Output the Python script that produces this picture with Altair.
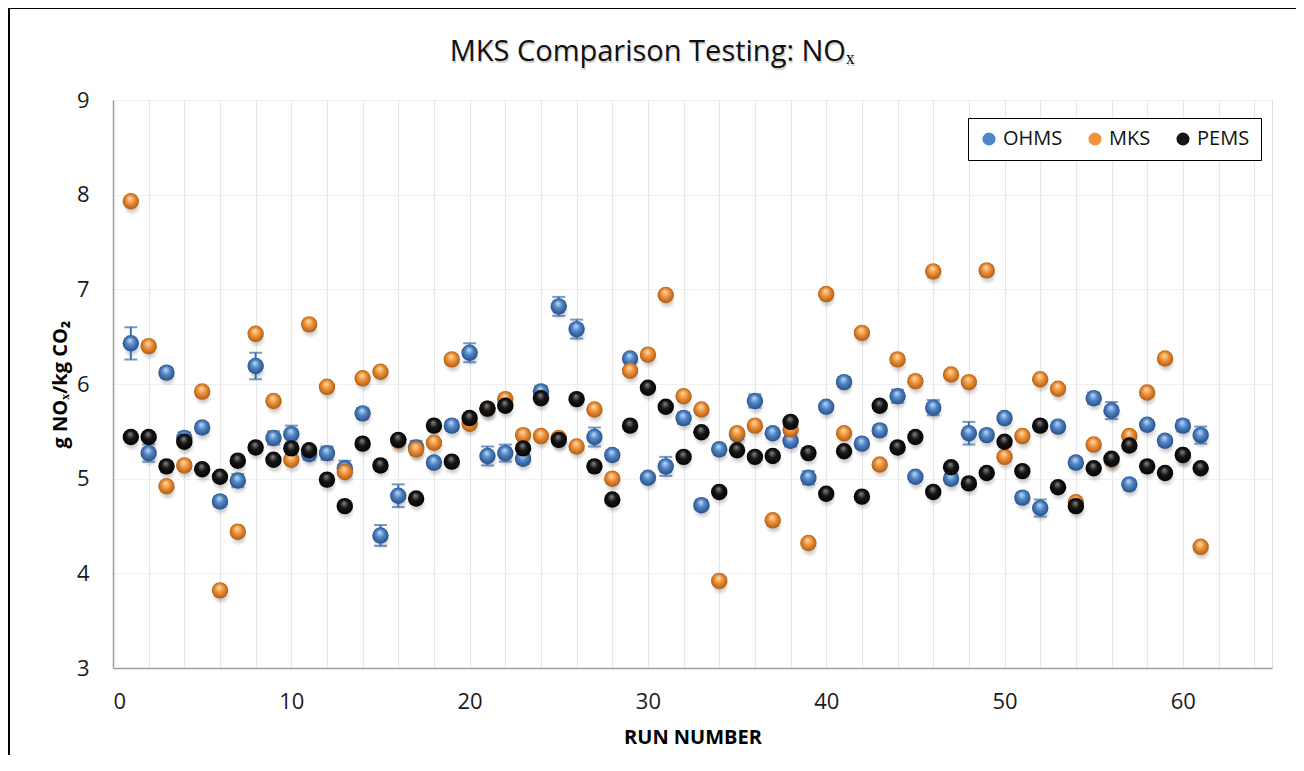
import altair as alt
import pandas as pd

runs = list(range(1, 62))

ohms = [6.43, 5.27, 6.12, 5.43, 5.54, 4.76, 4.98, 6.19, 5.43, 5.47,
        5.26, 5.27, 5.11, 5.69, 4.40, 4.82, 5.33, 5.17, 5.56, 6.33,
        5.24, 5.27, 5.21, 5.92, 6.82, 6.58, 5.44, 5.25, 6.27, 5.01,
        5.13, 5.64, 4.72, 5.31, 5.47, 5.82, 5.48, 5.40, 5.01, 5.76,
        6.02, 5.37, 5.51, 5.87, 5.02, 5.75, 5.00, 5.48, 5.46, 5.64,
        4.80, 4.69, 5.55, 5.17, 5.85, 5.72, 4.94, 5.57, 5.40, 5.56, 5.46]

ohms_err = [0.17, 0.09, 0.05, 0.06, 0.05, 0.05, 0.07, 0.14, 0.07, 0.09,
            0.06, 0.07, 0.08, 0.05, 0.11, 0.12, 0.07, 0.05, 0.05, 0.10,
            0.10, 0.09, 0.05, 0.06, 0.10, 0.10, 0.10, 0.05, 0.04, 0.04,
            0.10, 0.06, 0.05, 0.05, 0.05, 0.07, 0.05, 0.06, 0.07, 0.04,
            0.05, 0.05, 0.05, 0.07, 0.03, 0.08, 0.05, 0.12, 0.04, 0.05,
            0.05, 0.09, 0.05, 0.05, 0.06, 0.09, 0.03, 0.05, 0.05, 0.06, 0.09]

mks = [7.93, 6.40, 4.92, 5.14, 5.92, 3.82, 4.44, 6.53, 5.82, 5.20,
       6.63, 5.97, 5.07, 6.06, 6.13, 5.40, 5.31, 5.38, 6.26, 5.58,
       5.74, 5.84, 5.46, 5.45, 5.43, 5.34, 5.73, 5.00, 6.14, 6.31,
       6.94, 5.87, 5.73, 3.92, 5.48, 5.56, 4.56, 5.52, 4.32, 6.95,
       5.48, 6.54, 5.15, 6.26, 6.03, 7.19, 6.10, 6.02, 7.20, 5.23,
       5.45, 6.05, 5.95, 4.75, 5.36, 5.20, 5.45, 5.91, 6.27, 5.25, 4.28]

pems = [5.44, 5.44, 5.13, 5.39, 5.10, 5.02, 5.19, 5.33, 5.20, 5.32,
        5.30, 4.99, 4.71, 5.37, 5.14, 5.41, 4.79, 5.56, 5.18, 5.64,
        5.74, 5.77, 5.32, 5.85, 5.41, 5.84, 5.13, 4.78, 5.56, 5.96,
        5.76, 5.23, 5.49, 4.86, 5.30, 5.23, 5.24, 5.60, 5.27, 4.84,
        5.29, 4.81, 5.77, 5.33, 5.44, 4.86, 5.12, 4.95, 5.06, 5.39,
        5.08, 5.56, 4.91, 4.71, 5.11, 5.21, 5.35, 5.13, 5.06, 5.25, 5.11]

series_names = ["OHMS", "MKS", "PEMS"]
base_colors = ["#4f86c8", "#f0933a", "#141414"]
chart_title = "MKS Comparison Testing: NOₓ"

df_ohms = pd.DataFrame({"run": runs, "value": ohms, "err": ohms_err, "series": "OHMS"})
df_ohms["lo"] = df_ohms["value"] - df_ohms["err"]
df_ohms["hi"] = df_ohms["value"] + df_ohms["err"]
df_mks = pd.DataFrame({"run": runs, "value": mks, "series": "MKS"})
df_pems = pd.DataFrame({"run": runs, "value": pems, "series": "PEMS"})
df_all = pd.concat([df_ohms[["run", "value", "series"]], df_mks, df_pems], ignore_index=True)

FONT = "Open Sans"

x_enc = alt.X("run:Q",
              scale=alt.Scale(domain=[0, 65], nice=False, zero=False),
              axis=alt.Axis(values=list(range(0, 66, 2)), tickCount=60,
                            labelExpr="datum.value % 10 == 0 ? datum.label : ''",
                            labelOverlap=False,
                            title="RUN NUMBER", ticks=False, grid=True,
                            gridColor="#e6e6e6", gridWidth=1.2,
                            domainColor="#a0a0a0", domainWidth=1.5,
                            labelFontSize=22, labelColor="#1a1a1a", labelFont=FONT,
                            labelPadding=23, titleFontSize=20, titleFontWeight="bold",
                            titleFont=FONT, titleColor="#000000", titlePadding=15))
y_enc = alt.Y("value:Q",
              scale=alt.Scale(domain=[3, 9], nice=False, zero=False),
              axis=alt.Axis(values=[3, 4, 5, 6, 7, 8, 9], format="d",
                            title="g NOₓ/kg CO₂", labelOverlap=False,
                            ticks=False, grid=True, gridColor="#f0f0f0",
                            domainColor="#a0a0a0", domainWidth=1.5,
                            labelFontSize=22, labelColor="#1a1a1a", labelFont=FONT,
                            labelPadding=24, titleFontSize=20, titleFontWeight="bold",
                            titleFont=FONT, titleColor="#000000", titlePadding=6))


def sphere(light, base, dark):
    return {
        "gradient": "radial",
        "x1": 0.45, "y1": 0.3, "r1": 0.0,
        "x2": 0.5, "y2": 0.5, "r2": 0.55,
        "stops": [
            {"offset": 0.0, "color": light},
            {"offset": 0.45, "color": base},
            {"offset": 1.0, "color": dark},
        ],
    }


shadow_fill = {
    "gradient": "radial",
    "x1": 0.5, "y1": 0.5, "r1": 0.0,
    "x2": 0.5, "y2": 0.5, "r2": 0.5,
    "stops": [
        {"offset": 0.0, "color": "rgba(0,0,0,0.35)"},
        {"offset": 1.0, "color": "rgba(0,0,0,0)"},
    ],
}

legend_layer = alt.Chart(df_all).mark_circle(size=260, opacity=0).encode(
    x=x_enc, y=y_enc,
    color=alt.Color("series:N",
                    scale=alt.Scale(domain=series_names, range=base_colors),
                    sort=series_names,
                    legend=alt.Legend(title=None, orient="none", legendX=855, legendY=18,
                                      direction="horizontal", strokeColor="#000000",
                                      fillColor="#ffffff", padding=11,
                                      labelFontSize=20, labelFont=FONT, labelColor="#111111",
                                      symbolType="circle", symbolSize=170, symbolOpacity=1,
                                      columnPadding=22, symbolStrokeWidth=0,
                                      labelOffset=4))
)

layers = [legend_layer]

shadow_layer = alt.Chart(df_all).mark_circle(size=330, opacity=1, fill=shadow_fill,
                                             yOffset=5, xOffset=1).encode(x=x_enc, y=y_enc)
layers.append(shadow_layer)

err_rule = alt.Chart(df_ohms).mark_rule(color="#3b6db0", strokeWidth=2).encode(
    x="run:Q", y="lo:Q", y2="hi:Q")
cap_lo = alt.Chart(df_ohms).mark_tick(color="#3b6db0", orient="horizontal",
                                      size=13, thickness=2).encode(x="run:Q", y="lo:Q")
cap_hi = alt.Chart(df_ohms).mark_tick(color="#3b6db0", orient="horizontal",
                                      size=13, thickness=2).encode(x="run:Q", y="hi:Q")
layers += [err_rule, cap_lo, cap_hi]

fills = [sphere("#c7dcf5", "#4f86c8", "#25487c"),
         sphere("#fde1b5", "#f0933a", "#a65510"),
         sphere("#8a8a8a", "#161616", "#000000")]
for d, f in zip([df_ohms, df_mks, df_pems], fills):
    layers.append(alt.Chart(d).mark_circle(size=270, opacity=1, fill=f).encode(
        x="run:Q", y="value:Q"))

# chart-area frame (only the left and top edges are visible in the reference crop)
frame_src = pd.DataFrame({"k": [0]})
frame_left = alt.Chart(frame_src).mark_rule(color="#000000", strokeWidth=2).encode(
    x=alt.value(-104), y=alt.value(-92), y2=alt.value(680))
frame_top = alt.Chart(frame_src).mark_rule(color="#000000", strokeWidth=2).encode(
    y=alt.value(-92), x=alt.value(-105), x2=alt.value(1200))
title_shadow = alt.Chart(frame_src).mark_text(
    text=chart_title, fontSize=29, font=FONT, color="#000000", opacity=0.18,
    align="center", baseline="middle").encode(x=alt.value(540), y=alt.value(-46))
title_text = alt.Chart(frame_src).mark_text(
    text=chart_title, fontSize=29, font=FONT, color="#111111",
    align="center", baseline="middle").encode(x=alt.value(539), y=alt.value(-48))
layers += [frame_left, frame_top, title_shadow, title_text]

chart = alt.layer(*layers).properties(
    width=1159, height=568,
    autosize=alt.AutoSizeParams(type="none"),
    padding={"left": 105, "top": 92, "right": 24, "bottom": 87},
).configure_view(stroke=None).configure(background="#ffffff")

chart.save("out.html", embed_options={"renderer": "svg", "actions": False})
